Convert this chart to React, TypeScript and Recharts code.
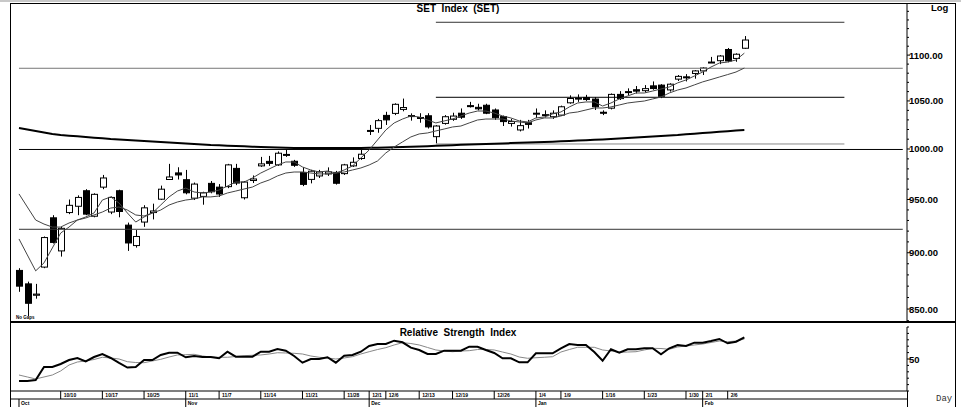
import React from 'react';
import { ComposedChart, Bar, Line, XAxis, YAxis, ReferenceLine } from 'recharts';

// SET index, daily candles Oct 3 2011 .. Feb 8 2012
const opens = [
  884, 872, 862, 887, 932.5, 901.7, 937.5, 943.5, 958.5, 934,
  962, 938, 958.5, 925.6, 906.6, 928.5, 937.5, 950.3, 969.5, 976,
  969.3, 951.3, 953, 965.7, 962, 962.5, 980.5, 951.7, 968.5, 983,
  987.5, 984, 993.5, 987.6, 976.5, 969.6, 973, 975, 976.5, 975.3,
  983, 990.4, 1018, 1021.2, 1034.7, 1036.8, 1041, 1034.5, 1032.5, 1034.3,
  1012.6, 1026.3, 1030.6, 1037, 1045, 1043.2, 1045.4, 1040.4, 1033.4, 1026.3,
  1019.5, 1027, 1036.5, 1035, 1033.3, 1035, 1048, 1052, 1053.7, 1052,
  1038, 1042.3, 1057, 1059, 1062, 1061, 1066.2, 1067, 1061.8, 1073.5,
  1076, 1079.7, 1082.5, 1092, 1093.8, 1106.3, 1096.3, 1107.7,
];
const highs = [
  886, 874, 872, 915, 935, 924, 950, 954, 960, 956,
  974, 953, 959.5, 928, 921, 944.5, 946, 963.5, 985, 981.6,
  979, 966.5, 957.5, 968, 965, 985, 985, 968, 973.5, 992,
  993, 997.5, 999.5, 989, 981.7, 979, 979, 981.5, 978, 985,
  991.5, 999, 1024.7, 1031, 1038.5, 1047.5, 1052.5, 1036.8, 1037, 1037,
  1024.5, 1035, 1037.5, 1042, 1049, 1047, 1047, 1042, 1034.5, 1031,
  1030, 1030, 1042, 1040, 1040, 1045, 1056, 1057, 1056.5, 1054,
  1040, 1058, 1060.5, 1063.5, 1066, 1067, 1071, 1068, 1069, 1078,
  1079, 1083.5, 1086.5, 1098, 1100, 1108, 1102, 1121.5,
];
const lows = [
  865, 844, 859, 886, 908.5, 896.5, 936, 935, 935, 933,
  960, 936, 933, 901.7, 904.7, 924, 931, 949.5, 969, 969.5,
  955, 949.5, 945, 956, 952.5, 961, 964, 950, 966, 982,
  983, 983, 992, 982, 963, 965.7, 971, 973, 964.5, 974,
  982, 989, 1014.3, 1016.6, 1024.7, 1035, 1039, 1029.2, 1027, 1021,
  1005.8, 1025, 1029, 1031, 1043, 1040, 1036, 1030, 1023.6, 1023,
  1018, 1021, 1032, 1032.5, 1031, 1034, 1047, 1049, 1050, 1040.4,
  1035, 1041, 1051, 1056, 1058, 1059, 1062, 1053, 1060, 1071.5,
  1071, 1074, 1078, 1091.5, 1090, 1092, 1092.6, 1107,
];
const closes = [
  870, 855, 863, 914, 909.5, 922.6, 944.4, 952, 936, 955,
  971, 952, 938.5, 909, 915, 942, 939, 960, 972, 974,
  956.5, 965, 956.5, 957.5, 955.3, 984, 966, 967, 970, 985,
  985.5, 995.7, 994.5, 983.6, 964.7, 977.7, 977, 977, 965.8, 984,
  986.6, 994.7, 1019, 1029.2, 1030, 1046.4, 1043, 1033.5, 1031.5, 1022.7,
  1023.6, 1033.3, 1034, 1032.8, 1044, 1041.6, 1037, 1032.3, 1028.2, 1028.3,
  1024, 1025.3, 1037, 1035.5, 1037, 1043.8, 1052.6, 1053, 1051.5, 1043.8,
  1037, 1057, 1052.5, 1060, 1060.5, 1063.2, 1063.3, 1055, 1068, 1076.5,
  1075.5, 1082.5, 1085.7, 1092.3, 1099, 1093.5, 1101, 1117,
];
const maFast = [
  912.7, 898, 883.6, 890.8, 904.4, 918.2, 923.8, 930.4, 933.3, 937.1,
  949.5, 952.5, 946.6, 937.1, 928.5, 933.3, 937.1, 944.7, 952.5, 958.2,
  961.1, 957.3, 956.3, 957.3, 959.2, 963.1, 967, 967, 971, 975.9,
  979.9, 983.9, 986.9, 986.9, 981.9, 978.9, 976.9, 977.9, 975.9, 978.9,
  982.9, 990.9, 999, 1009.2, 1019.5, 1026.8, 1030.9, 1034.1, 1033, 1029.9,
  1026.8, 1028.9, 1030.9, 1034.1, 1037.2, 1039.3, 1039.3, 1037.2, 1034.1, 1032,
  1028.9, 1027.8, 1032, 1033, 1036.2, 1038.3, 1043.6, 1047.8, 1048.9, 1048.9,
  1044.6, 1047.8, 1052.1, 1055.3, 1058.5, 1058.5, 1060.6, 1062.8, 1065, 1069.4,
  1072.6, 1076.9, 1081.3, 1086.8, 1091.2, 1092.3, 1094.6, 1102.2,
];
const maSlow = [
  955.4, 942.8, 930.4, 926.6, 923.8, 923.8, 927.6, 930.4, 932.3, 935.2,
  938, 941.8, 942.8, 939.9, 935.2, 934.2, 937.1, 939.9, 944.7, 947.6,
  949.5, 950.5, 952.5, 952.5, 953.4, 956.3, 958.2, 960.2, 962.1, 966.1,
  969, 973, 975.9, 976.9, 976.9, 975.9, 975, 975, 975.9, 976.9,
  978.9, 980.9, 983.9, 987.9, 996, 1002, 1007.2, 1012.3, 1015.4, 1016.4,
  1018.5, 1020.5, 1022.6, 1023.6, 1026.8, 1029.9, 1030.9, 1030.9, 1030.9, 1028.9,
  1027.8, 1026.8, 1029.9, 1032, 1032, 1034.1, 1037.2, 1038.3, 1040.4, 1042.5,
  1042.5, 1043.6, 1045.7, 1047.8, 1048.9, 1049.9, 1052.1, 1054.2, 1058.5, 1061.7,
  1063.9, 1067.2, 1070.5, 1073.1, 1075.8, 1078.5, 1081.3, 1085.7,
];
const maLong = [
  1021.6, 1020, 1018.5, 1016.9, 1015.4, 1014.3, 1013.6, 1013, 1012.3, 1011.6,
  1011, 1010.2, 1009.7, 1009.2, 1008.7, 1008.2, 1007.7, 1007.1, 1006.6, 1006.1,
  1005.6, 1005.1, 1004.6, 1004.1, 1003.8, 1003.4, 1003.1, 1002.8, 1002.3, 1002,
  1001.7, 1001.5, 1001.3, 1001, 1001, 1001, 1001, 1001, 1001, 1001,
  1001, 1001, 1001.2, 1001.3, 1001.5, 1001.7, 1002, 1002.3, 1002.6, 1002.9,
  1003.3, 1003.6, 1003.9, 1004.2, 1004.5, 1004.8, 1005.1, 1005.4, 1005.7, 1006,
  1006.3, 1006.6, 1006.9, 1007.2, 1007.5, 1007.9, 1008.2, 1008.6, 1009, 1009.4,
  1009.8, 1010.2, 1010.7, 1011.2, 1011.7, 1012.3, 1012.8, 1013.3, 1013.8, 1014.3,
  1015, 1015.7, 1016.4, 1017, 1017.6, 1018.2, 1018.9, 1019.5,
];
const rsi = [
  15.6, 15.6, 17.2, 37.5, 37.5, 42.2, 48.4, 51.6, 46.1, 53.1,
  57.8, 51.6, 43.8, 36.7, 37.5, 48.4, 48.4, 56.3, 59.8, 59.8,
  52.7, 54.7, 53.1, 53.1, 51.1, 61.4, 53.6, 53.6, 53.6, 61.4,
  61.4, 65.6, 63, 54.7, 44.2, 50, 50, 52.7, 44.2, 55.2,
  56.3, 61.4, 70.3, 73.4, 73.4, 78.6, 76.1, 67.7, 64.1, 57.8,
  57.8, 63, 63, 63, 69.2, 69.2, 64.1, 59.4, 51.1, 51.1,
  44.8, 44.8, 58.9, 58.9, 58.9, 66.7, 73.4, 71.9, 71.9, 60.9,
  47.3, 65.2, 59.8, 65.2, 65.2, 66.7, 66.7, 57.3, 66.7, 71.9,
  70.3, 75.5, 75.5, 78.1, 81.3, 74.5, 77, 83.9,
];
const rsiSignal = [
  25, 21.9, 18.8, 21.9, 25, 31.3, 40.6, 45.3, 46.9, 49.2,
  52.7, 51.6, 50, 45.8, 44.5, 44.2, 46.9, 49.5, 53.1, 56.3,
  56.7, 57.3, 54.7, 53.1, 52.7, 52.7, 53.9, 55.2, 55.8, 56.3,
  57.8, 59.8, 59.4, 58.9, 57.8, 54.7, 52.7, 51.6, 50, 51.6,
  53.6, 57.8, 61.4, 64.8, 67.7, 71.9, 75.5, 74.2, 71.9, 68,
  64.1, 62.5, 61.4, 62.5, 63, 64.8, 64.8, 64.1, 60.9, 57.8,
  53.1, 51.1, 52, 52.7, 53.6, 60.9, 64.8, 68.3, 68.3, 68.3,
  64.1, 62.5, 60.5, 60.9, 61.4, 64.1, 66.7, 66.4, 65.2, 68.8,
  70.3, 71.9, 73.4, 75.8, 78.1, 77, 78.1, 81.3,
];

// date ticks (slot index -> label)
const dateSlots = [5, 10, 15, 20, 24, 29, 34, 39, 42, 44, 48, 52, 57, 62, 65, 70, 75, 80, 82, 85];
const dateLabels = ['10/10', '10/17', '10/25', '11/1', '11/7', '11/14', '11/21', '11/28', '12/1', '12/6',
  '12/13', '12/19', '12/26', '1/4', '1/9', '1/16', '1/23', '1/30', '2/1', '2/6'];
const monthSlots = [0, 20, 42, 62, 82];
const monthLabels = ['Oct', 'Nov', 'Dec', 'Jan', 'Feb'];

// drawn horizontal lines
const fullLines = [1085.4, 999.5, 921.7];
const fullColors = ['#777', '#000', '#333'];
const shortLines = [1137.3, 1053.9, 1005.1];
const shortColors = ['#333', '#000', '#888'];

const priceLabels = [850, 900, 950, 1000, 1050, 1100];
const priceDomain = [838.9, 1158.6];

const SLOTS = 107;
const rows = Array.from({ length: SLOTS }, (_, i) =>
  i < closes.length
    ? {
        slot: i,
        open: opens[i],
        high: highs[i],
        low: lows[i],
        close: closes[i],
        range: [lows[i], highs[i]],
        fast: maFast[i],
        slow: maSlow[i],
        long: maLong[i],
        rsi: rsi[i],
        signal: rsiSignal[i],
      }
    : { slot: i }
);

const priceTicks = Array.from({ length: 32 }, (_, i) => 840 + i * 10);
const leftTicks = Array.from({ length: 46 }, (_, i) => 842 + i * 7);
const rsiTicks = [0, 10, 20, 30, 40, 50, 60, 70, 80, 90, 100];

const xPad = { left: 4.83, right: 0.07 };
const font = '"Liberation Sans", Arial, sans-serif';

const Candle = (props: any) => {
  const { x, width, payload } = props;
  let { y, height } = props;
  if (!payload || payload.open == null || !isFinite(height)) return <g />;
  if (height < 0) {
    y += height;
    height = -height;
  }
  const lh = Math.log(payload.high);
  const ll = Math.log(payload.low);
  const toY = (v: number) => y + ((lh - Math.log(v)) / (lh - ll)) * height;
  const cx = Math.round(x + width / 2) + 0.5;
  const yo = toY(payload.open);
  const yc = toY(payload.close);
  const top = Math.min(yo, yc);
  const bh = Math.max(1, Math.abs(yo - yc));
  const up = payload.close >= payload.open;
  return (
    <g>
      <line x1={cx} x2={cx} y1={y} y2={y + height} stroke="#000" strokeWidth={1} />
      <rect x={cx - 3} y={top} width={6} height={bh} fill={up ? '#fff' : '#000'} stroke="#000" strokeWidth={1} />
    </g>
  );
};

const PriceTick = (props: any) => {
  const { x, y, payload } = props;
  const major = priceLabels.includes(payload.value);
  return (
    <g>
      <line x1={x} x2={x + (major ? 3 : 2)} y1={y} y2={y} stroke="#000" />
      {major && (
        <text x={x + 2} y={y + 3.5} fontSize={9.5} fontWeight="bold" fontFamily={font} fill="#000">
          {payload.value.toFixed(2)}
        </text>
      )}
    </g>
  );
};

const RsiTick = (props: any) => {
  const { x, y, payload } = props;
  const major = payload.value === 50;
  return (
    <g>
      <line x1={x} x2={x + (major ? 3 : 2)} y1={y} y2={y} stroke="#000" />
      {major && (
        <text x={x + 2} y={y + 3.5} fontSize={9.5} fontWeight="bold" fontFamily={font} fill="#000">
          50
        </text>
      )}
    </g>
  );
};

const LeftTick = (props: any) => {
  const { x, y } = props;
  return <line x1={x} x2={x + 3} y1={y} y2={y} stroke="#000" />;
};

const DateTick = (props: any) => {
  const { x, y, payload } = props;
  const i = dateSlots.indexOf(payload.value);
  if (i < 0) return <g />;
  return (
    <g>
      <line x1={x} x2={x} y1={y} y2={y + 8} stroke="#000" />
      <text x={x + 3} y={y + 6} fontSize={5} fontWeight="bold" fontFamily={font} fill="#000">
        {dateLabels[i]}
      </text>
    </g>
  );
};

const MonthTick = (props: any) => {
  const { x, y, payload } = props;
  const i = monthSlots.indexOf(payload.value);
  if (i < 0) return <g />;
  return (
    <g>
      <line x1={x} x2={x} y1={y} y2={y + 8} stroke="#000" />
      <text x={x + 2} y={y + 6} fontSize={5} fontWeight="bold" fontFamily={font} fill="#000">
        {monthLabels[i]}
      </text>
    </g>
  );
};

export default function App() {
  return (
    <div style={{ position: 'absolute', left: 0, top: 0, width: 961, height: 407, background: '#fff', overflow: 'hidden' }}>
      <div style={{ position: 'absolute', left: 0, top: 0, width: 961, height: 2, background: '#c8c8c8' }} />
      <div style={{ position: 'absolute', left: 10, top: 3, width: 946, height: 320, boxSizing: 'border-box', borderTop: '1px solid #000', borderLeft: '1px solid #000', borderRight: '1px solid #000', borderBottom: '2px solid #000' }} />
      <div style={{ position: 'absolute', left: 10, top: 323, width: 946, height: 84, boxSizing: 'border-box', borderLeft: '1px solid #000', borderRight: '1px solid #000' }} />
      <div style={{ position: 'absolute', left: 907, top: 391, width: 1, height: 16, background: '#000' }} />

      <div style={{ position: 'absolute', left: 0, top: 0 }}>
        <ComposedChart width={961} height={324} data={rows} margin={{ top: 4, right: 0, bottom: 2, left: 10 }}>
          <XAxis dataKey="slot" hide scale="band" padding={xPad} />
          <YAxis yAxisId="r" orientation="right" scale="log" domain={priceDomain} allowDataOverflow
            ticks={priceTicks} interval={0} width={54} tickSize={0} tickMargin={0} tickLine={false}
            axisLine={{ stroke: '#000' }} tick={PriceTick} />
          <YAxis yAxisId="l" orientation="left" scale="log" domain={priceDomain} allowDataOverflow
            ticks={leftTicks} interval={0} width={0} tickSize={0} tickMargin={0} tickLine={false}
            axisLine={{ stroke: '#000' }} tick={LeftTick} />
          {fullLines.map((v, k) => (
            <ReferenceLine key={'f' + v} yAxisId="r" segment={[{ x: 0, y: v }, { x: 106, y: v }]}
              stroke={fullColors[k]} strokeWidth={1} />
          ))}
          {shortLines.map((v, k) => (
            <ReferenceLine key={'s' + v} yAxisId="r" segment={[{ x: 50, y: v }, { x: 99, y: v }]}
              stroke={shortColors[k]} strokeWidth={1} />
          ))}
          <Line yAxisId="r" dataKey="long" stroke="#000" strokeWidth={2} dot={false} isAnimationActive={false} />
          <Line yAxisId="r" dataKey="slow" stroke="#444" strokeWidth={1} dot={false} isAnimationActive={false} />
          <Line yAxisId="r" dataKey="fast" stroke="#444" strokeWidth={1} dot={false} isAnimationActive={false} />
          <Bar yAxisId="r" dataKey="range" barSize={7} shape={Candle} isAnimationActive={false} />
        </ComposedChart>
      </div>

      <div style={{ position: 'absolute', left: 0, top: 324 }}>
        <ComposedChart width={961} height={83} data={rows} margin={{ top: 3, right: 0, bottom: 0, left: 10 }}>
          <XAxis dataKey="slot" scale="band" padding={xPad} interval={0} height={8} tickSize={0} tickMargin={0}
            tickLine={false} axisLine={{ stroke: '#000' }} tick={DateTick} />
          <XAxis xAxisId="m" dataKey="slot" scale="band" padding={xPad} interval={0} height={8} tickSize={0}
            tickMargin={0} tickLine={false} axisLine={{ stroke: '#000' }} tick={MonthTick} />
          <YAxis yAxisId="r" orientation="right" domain={[0, 100]} allowDataOverflow ticks={rsiTicks} interval={0}
            width={54} tickSize={0} tickMargin={0} tickLine={false} axisLine={{ stroke: '#000' }} tick={RsiTick} />
          <YAxis yAxisId="l" orientation="left" domain={[0, 100]} ticks={rsiTicks} interval={0} width={0}
            tickSize={0} tickMargin={0} tickLine={false} axisLine={{ stroke: '#000' }} tick={LeftTick} />
          <Line yAxisId="r" dataKey="signal" stroke="#888" strokeWidth={1} dot={false} isAnimationActive={false} />
          <Line yAxisId="r" dataKey="rsi" stroke="#000" strokeWidth={2} dot={false} isAnimationActive={false} />
        </ComposedChart>
      </div>

      <div style={{ position: 'absolute', left: 358, top: 4, width: 200, textAlign: 'center', fontFamily: font, fontWeight: 'bold', fontSize: 10, lineHeight: '10px', whiteSpace: 'pre' }}>
        SET  Index  (SET)
      </div>
      <div style={{ position: 'absolute', left: 931, top: 3, fontFamily: font, fontWeight: 'bold', fontSize: 9.5, lineHeight: '10px' }}>
        Log
      </div>
      <div style={{ position: 'absolute', left: 16, top: 315, fontFamily: font, fontWeight: 'bold', fontSize: 4.5, lineHeight: '5px' }}>
        No Gaps
      </div>
      <div style={{ position: 'absolute', left: 358, top: 328, width: 200, textAlign: 'center', fontFamily: font, fontWeight: 'bold', fontSize: 10, lineHeight: '10px', whiteSpace: 'pre' }}>
        Relative  Strength  Index
      </div>
      <div style={{ position: 'absolute', left: 936, top: 394, fontFamily: '"Liberation Mono", monospace', fontSize: 9, lineHeight: '10px', color: '#333' }}>
        Day
      </div>
    </div>
  );
}
